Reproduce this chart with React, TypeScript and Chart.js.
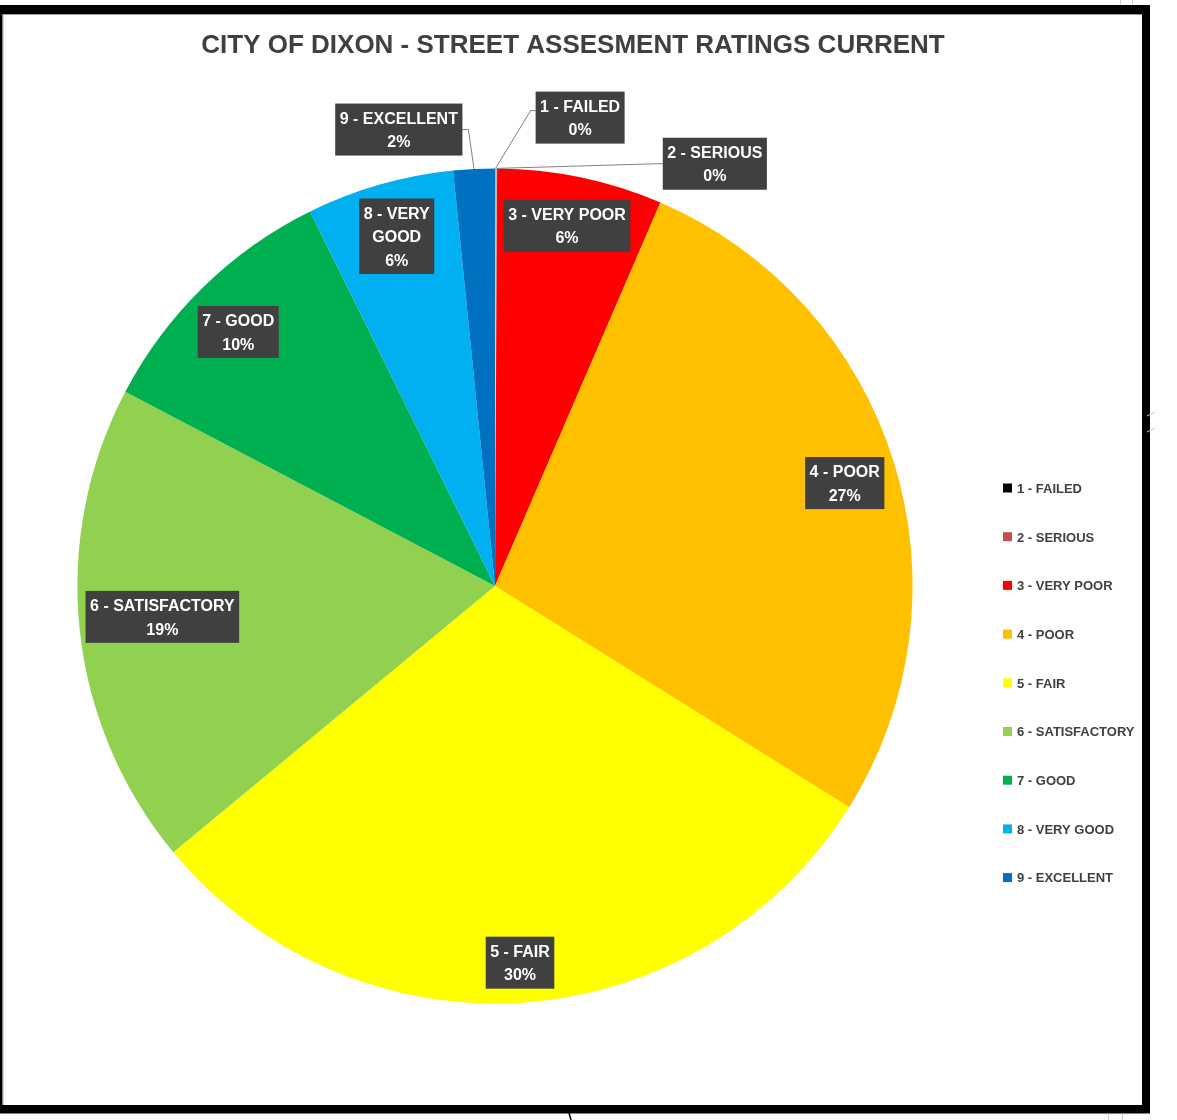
import React, { useEffect, useRef } from "react";
import { Chart, registerables } from "chart.js";

Chart.register(...registerables);

const TITLE = "CITY OF DIXON - STREET ASSESMENT RATINGS CURRENT";
const CATEGORIES = [
  "1 - FAILED",
  "2 - SERIOUS",
  "3 - VERY POOR",
  "4 - POOR",
  "5 - FAIR",
  "6 - SATISFACTORY",
  "7 - GOOD",
  "8 - VERY GOOD",
  "9 - EXCELLENT",
];
const VALUES = [0.04, 0.04, 6.4, 27.4, 30.1, 18.7, 10.0, 5.7, 1.6];
const COLORS = [
  "#000000",
  "#C0504D",
  "#FF0000",
  "#FFC000",
  "#FFFF00",
  "#92D050",
  "#00B050",
  "#00B0F0",
  "#0070C0",
];
// data-label placement relative to the pie: radius fraction, angle (deg clockwise from top), wrap width
const LABEL_RADIUS = [1.14, 1.14, 0.88, 0.873, 0.904, 0.8, 0.865, 0.87, 1.117];
const LABEL_ANGLE = [10.3, 27.5, 11.3, 73.6, 176.2, 264.7, 314.7, 344.3, 348.1];
const LABEL_WRAP = [0, 0, 0, 0, 0, 0, 0, 72, 0];

const FONT = '"Liberation Sans", Arial, sans-serif';

function wrapText(ctx: CanvasRenderingContext2D, text: string, maxW: number): string[] {
  if (!maxW) return [text];
  const words = text.split(" ");
  const lines: string[] = [];
  let cur = "";
  for (const w of words) {
    const t = cur ? cur + " " + w : w;
    if (cur && ctx.measureText(t).width > maxW) {
      lines.push(cur);
      cur = w;
    } else cur = t;
  }
  if (cur) lines.push(cur);
  return lines;
}

const framePlugin = {
  id: "frameAndTitle",
  beforeDraw(chart: any) {
    const ctx = chart.ctx as CanvasRenderingContext2D;
    ctx.save();
    ctx.fillStyle = "#ffffff";
    ctx.fillRect(0, 0, chart.width, chart.height);
    // title
    ctx.fillStyle = "#404040";
    ctx.font = `bold 26px ${FONT}`;
    ctx.textAlign = "center";
    ctx.textBaseline = "alphabetic";
    ctx.fillText(TITLE, 573, 53);
    ctx.restore();
  },
  afterDraw(chart: any) {
    const ctx = chart.ctx as CanvasRenderingContext2D;
    ctx.save();
    // frame
    ctx.fillStyle = "#000000";
    ctx.fillRect(0, 5, 1148, 9);
    ctx.fillRect(0, 5, 2.5, 1108);
    ctx.fillRect(1142, 5, 8, 1108);
    ctx.fillRect(0, 1105, 1150, 8.5);
    ctx.strokeStyle = "#9a9a9a";
    ctx.lineWidth = 1;
    ctx.beginPath();
    ctx.moveTo(3, 14.5);
    ctx.lineTo(1142, 14.5);
    ctx.moveTo(3, 14);
    ctx.lineTo(3, 1105);
    ctx.stroke();
    // small marks
    ctx.strokeStyle = "#c8c8c8";
    ctx.beginPath();
    ctx.moveTo(1120.5, 0);
    ctx.lineTo(1120.5, 5);
    ctx.moveTo(1132.5, 0);
    ctx.lineTo(1132.5, 5);
    ctx.moveTo(1108.5, 1114);
    ctx.lineTo(1108.5, 1120);
    ctx.moveTo(1122.5, 1114);
    ctx.lineTo(1122.5, 1120);
    ctx.moveTo(1147, 416);
    ctx.lineTo(1155, 412);
    ctx.moveTo(1147, 432);
    ctx.lineTo(1155, 428);
    ctx.stroke();
    ctx.strokeStyle = "#000000";
    ctx.lineWidth = 1.5;
    ctx.beginPath();
    ctx.moveTo(569, 1113);
    ctx.lineTo(571, 1120);
    ctx.stroke();

    // legend
    const labels = chart.data.labels as string[];
    const colors = chart.data.datasets[0].backgroundColor as string[];
    ctx.font = `bold 13px ${FONT}`;
    ctx.textAlign = "left";
    ctx.textBaseline = "alphabetic";
    labels.forEach((lab, i) => {
      const cy = 488 + i * 48.7;
      ctx.fillStyle = colors[i];
      ctx.fillRect(1003, cy - 4.5, 9, 9);
      ctx.fillStyle = "#404040";
      ctx.fillText(lab, 1017, cy + 4.8);
    });
    ctx.restore();
  },
};

const labelPlugin = {
  id: "boxLabels",
  afterDatasetsDraw(chart: any) {
    const ctx = chart.ctx as CanvasRenderingContext2D;
    const meta = chart.getDatasetMeta(0);
    const data = chart.data.datasets[0].data as number[];
    const total = data.reduce((a: number, b: number) => a + b, 0);
    const labels = chart.data.labels as string[];
    ctx.save();
    ctx.font = `bold 16px ${FONT}`;
    meta.data.forEach((arc: any, i: number) => {
      const { x, y, outerRadius, startAngle, endAngle } = arc.getProps(
        ["x", "y", "outerRadius", "startAngle", "endAngle"],
        true
      );
      const f = LABEL_RADIUS[i];
      const a = (LABEL_ANGLE[i] * Math.PI) / 180;
      const cx = x + f * outerRadius * Math.sin(a);
      const cy = y - f * outerRadius * Math.cos(a);
      const pct = Math.round((data[i] / total) * 100) + "%";
      const lines = [...wrapText(ctx, labels[i], LABEL_WRAP[i]), pct];
      const lh = 23.5;
      const w = Math.max(...lines.map((l) => ctx.measureText(l).width)) + 9;
      const h = lines.length * lh + 5;
      const bx = cx - w / 2;
      const by = cy - h / 2;
      if (f > 1) {
        const mid = (startAngle + endAngle) / 2;
        const px = x + outerRadius * Math.cos(mid);
        const py = y + outerRadius * Math.sin(mid);
        const edge = cx > px ? bx : bx + w;
        const elbow = cx > px ? edge - 5 : edge + 6;
        ctx.strokeStyle = "#808080";
        ctx.lineWidth = 1;
        ctx.beginPath();
        ctx.moveTo(px, py);
        ctx.lineTo(elbow, cy - (i === 0 ? 7 : 0));
        ctx.lineTo(edge, cy - (i === 0 ? 7 : 0));
        ctx.stroke();
      }
      ctx.fillStyle = "#404040";
      ctx.fillRect(bx, by, w, h);
      ctx.fillStyle = "#ffffff";
      ctx.textAlign = "center";
      ctx.textBaseline = "alphabetic";
      lines.forEach((l, k) => {
        const ly = by + 2.5 + lh * k + lh / 2;
        ctx.fillText(l, cx, ly + 6);
      });
    });
    ctx.restore();
  },
};

export default function App() {
  const ref = useRef<HTMLCanvasElement | null>(null);
  useEffect(() => {
    if (!ref.current) return;
    const chart = new Chart(ref.current, {
      type: "pie",
      data: {
        labels: CATEGORIES,
        datasets: [
          {
            data: VALUES,
            backgroundColor: COLORS,
            borderColor: COLORS.map((c, i) => (i < 2 ? "#e6e6e6" : c)),
            borderWidth: VALUES.map((v, i) => (i < 2 ? 0.8 : 0)),
          },
        ],
      },
      options: {
        animation: false,
        responsive: false,
        devicePixelRatio: 1,
        layout: { padding: { left: 77, right: 264, top: 168, bottom: 116 } },
        plugins: {
          legend: { display: false },
          title: { display: false },
          tooltip: { enabled: false },
        },
      },
      plugins: [framePlugin, labelPlugin],
    });
    return () => chart.destroy();
  }, []);
  return (
    <div style={{ position: "absolute", left: 0, top: 0, width: 1177, height: 1120 }}>
      <canvas ref={ref} width={1177} height={1120} style={{ display: "block" }} />
    </div>
  );
}
